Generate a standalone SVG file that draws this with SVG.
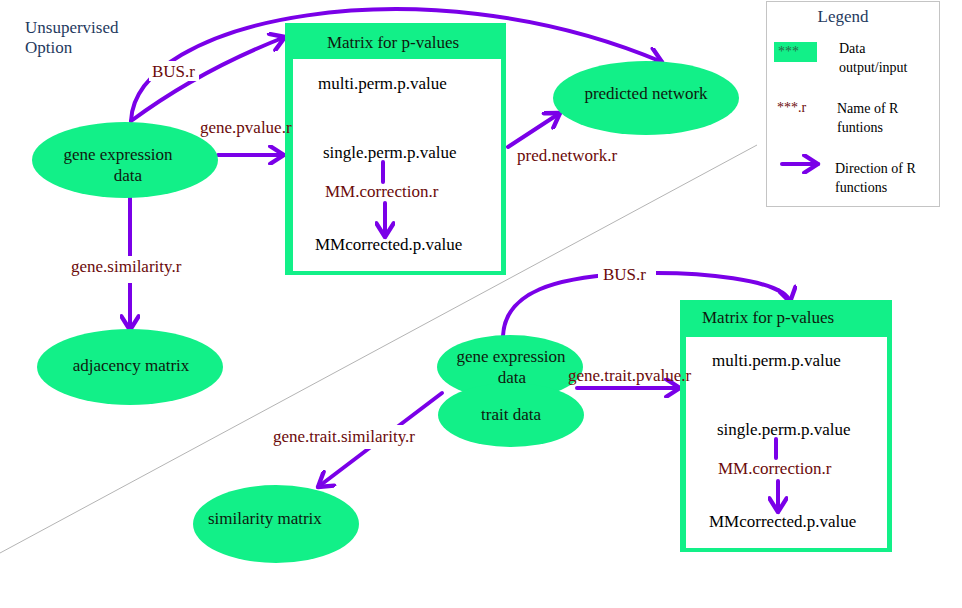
<svg xmlns="http://www.w3.org/2000/svg" width="962" height="608" viewBox="0 0 962 608" font-family="'Liberation Serif', 'DejaVu Serif', serif">
<defs>
<marker id="ah" markerUnits="userSpaceOnUse" markerWidth="20" markerHeight="20" refX="14" refY="8" orient="auto" viewBox="0 0 16 16">
<path d="M3,1 L14,8 L3,15" fill="none" stroke="#7A00E8" stroke-width="3.5" stroke-linecap="round" stroke-linejoin="round"/>
</marker>
<style>
.g{fill:#12F088}
.t{font-size:17px;fill:#0e1a0e}
.k{font-size:17px;fill:#000}
.r{font-size:17px;fill:#6B0A0A}
.b{font-size:17px;fill:#1F3A60}
.s{font-size:14px;fill:#000}
.c{fill:none;stroke:#7A00E8;stroke-width:4;stroke-linecap:round}
.m{marker-end:url(#ah)}
</style>
</defs>
<rect width="962" height="608" fill="#fff"/>
<line x1="0" y1="553" x2="757" y2="145" stroke="#b4b4b4" stroke-width="1"/>
<text class="b" x="25" y="33" font-family="Liberation Serif, serif">Unsupervised</text>
<text class="b" x="25" y="53" font-family="Liberation Serif, serif">Option</text>

<g id="connectors">
<path class="c m" d="M131,121 C135,20 420,-40 662,62"/>
<path class="c m" d="M131,121 Q200,70 285,37"/>
<path class="c m" d="M218,155 L284,155"/>
<path class="c m" d="M130,197 L130,330"/>
<path class="c m" d="M508,147 L560,113"/>
<path class="c m" d="M503,336 C505,290 560,278 620,274 C700,270 785,280 790,302"/>
<path class="c m" d="M577,388 L680,388"/>
<path class="c m" d="M442,393 L318,487"/>
</g>

<g id="gene-expression">
<ellipse class="g" cx="125" cy="160" rx="93" ry="38"/>
<text class="t" x="118" y="160" text-anchor="middle">gene expression</text>
<text class="t" x="128" y="181" text-anchor="middle">data</text>
</g>
<g id="adjacency-matrix">
<ellipse class="g" cx="130" cy="367" rx="93" ry="38"/>
<text class="t" x="131" y="371" text-anchor="middle">adjacency matrix</text>
</g>
<g id="predicted-network">
<ellipse class="g" cx="646" cy="98" rx="93" ry="37"/>
<text class="t" x="646" y="99" text-anchor="middle">predicted network</text>
</g>
<g id="matrix1">
<rect class="g" x="285" y="23" width="221" height="252"/>
<rect x="293" y="59" width="208" height="212" fill="#fff"/>
<text class="t" x="393" y="48" text-anchor="middle">Matrix for p-values</text>
<text class="k" x="318" y="89">multi.perm.p.value</text>
<text class="k" x="323" y="158">single.perm.p.value</text>
<path class="c" d="M383,162 L383,182"/>
<path class="c m" d="M385,203 L385,237"/>
<text class="r" x="325" y="197">MM.correction.r</text>
<text class="k" x="315" y="250">MMcorrected.p.value</text>
</g>
<g id="gene-trait-data">
<ellipse class="g" cx="510" cy="367" rx="73" ry="32"/>
<ellipse class="g" cx="511" cy="415" rx="73" ry="32"/>
<text class="t" x="511" y="362" text-anchor="middle">gene expression</text>
<text class="t" x="512" y="383" text-anchor="middle">data</text>
<text class="t" x="511" y="420" text-anchor="middle">trait data</text>
</g>
<g id="similarity-matrix">
<ellipse class="g" cx="276" cy="524" rx="83" ry="39"/>
<text class="t" x="208" y="524">similarity matrix</text>
</g>
<g id="matrix2">
<rect class="g" x="680" y="300" width="212" height="252"/>
<rect x="686" y="337" width="201" height="211" fill="#fff"/>
<text class="t" x="702" y="323">Matrix for p-values</text>
<text class="k" x="712" y="366">multi.perm.p.value</text>
<text class="k" x="717" y="435">single.perm.p.value</text>
<path class="c" d="M776,439 L776,458"/>
<path class="c m" d="M778,481 L778,512"/>
<text class="r" x="718" y="474">MM.correction.r</text>
<text class="k" x="709" y="527">MMcorrected.p.value</text>
</g>

<g id="label-bus1"><rect x="149" y="61" width="50" height="20" fill="#fff"/><text class="r" x="152" y="77">BUS.r</text></g>
<g id="label-genepvalue"><text class="r" x="200" y="133">gene.pvalue.r</text></g>
<g id="label-genesim"><rect x="68" y="256" width="124" height="27" fill="#fff"/><text class="r" x="71" y="272">gene.similarity.r</text></g>
<g id="label-prednet"><text class="r" x="517" y="161">pred.network.r</text></g>
<g id="label-bus2"><rect x="598" y="262" width="58" height="22" fill="#fff"/><text class="r" x="603" y="280">BUS.r</text></g>
<g id="label-gtpvalue"><text class="r" x="568" y="381">gene.trait.pvalue.r</text></g>
<g id="label-gtsim"><rect x="272" y="425" width="152" height="24" fill="#fff"/><text class="r" x="273" y="442">gene.trait.similarity.r</text></g>

<g id="legend">
<rect x="766.5" y="1.5" width="173" height="205" fill="#fff" stroke="#c4c4c4" stroke-width="1"/>
<text class="b" x="843" y="22" text-anchor="middle">Legend</text>
<rect class="g" x="774" y="42" width="43" height="20"/>
<text class="s" x="778" y="56" style="fill:#2a6a4a">***</text>
<text class="s" x="839" y="53">Data</text>
<text class="s" x="839" y="72">output/input</text>
<text class="s" x="777" y="112" style="fill:#6B0A0A">***.r</text>
<text class="s" x="837" y="113">Name of R</text>
<text class="s" x="837" y="132">funtions</text>
<path class="c m" d="M782,164 L818,164"/>
<text class="s" x="835" y="173">Direction of R</text>
<text class="s" x="835" y="192">functions</text>
</g>
</svg>
